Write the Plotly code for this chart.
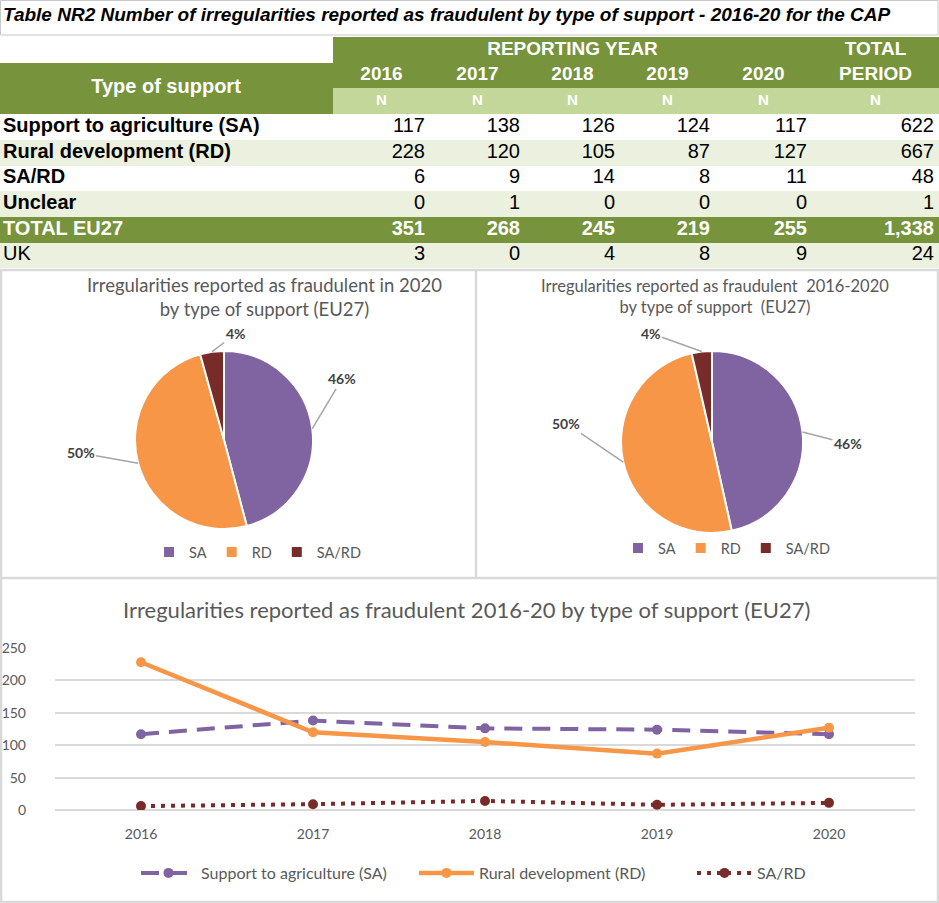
import math
import plotly.graph_objects as go

W, H = 939, 903

# ---- data ----
years = ["2016", "2017", "2018", "2019", "2020"]
support_types = ["Support to agriculture (SA)", "Rural development (RD)", "SA/RD", "Unclear"]
sa_counts = [117, 138, 126, 124, 117]
rd_counts = [228, 120, 105, 87, 127]
sard_counts = [6, 9, 14, 8, 11]
unclear_counts = [0, 1, 0, 0, 0]
uk_counts = [3, 0, 4, 8, 9]
pie_labels = ["SA", "RD", "SA/RD"]

GREEN = "#77933C"
LIGHT_GREEN = "#C4D79B"
PALE = "#EBF1DE"
PURPLE = "#8064A2"
ORANGE = "#F79646"
DARKRED = "#772C2A"
GREY_TXT = "#595959"
BORDER = "#D9D9D9"
TABLE_FONT = "Liberation Sans, Arial"
CHART_FONT = "Lato, Calibri"


def px(x):
    return x / W


def py(y):
    return 1 - y / H


# ---- table (heatmap for cell fills, text traces for values) ----
eu_total = [a + b + c + d for a, b, c, d in zip(sa_counts, rd_counts, sard_counts, unclear_counts)]
body_rows = [sa_counts, rd_counts, sard_counts, unclear_counts, eu_total, uk_counts]
body_rows = [r + [sum(r)] for r in body_rows]
row_names = support_types + ["TOTAL EU27", "UK"]
total_idx = 4

col_edges = [0, 333, 430, 525, 620, 715, 812, 939]
n_head = 3
n_rows = n_head + len(body_rows)
row_edges = list(range(n_rows + 1))

# fill codes: 0 white, 1 green, 2 light green, 3 pale
head_codes = [[0] + [1] * 6, [1] * 7, [1] + [2] * 6]
body_codes = [[c] * 7 for c in [0, 3, 0, 3, 1, 3]]
fill_z = head_codes + body_codes

fig = go.Figure()

fig.add_trace(go.Heatmap(
    x=col_edges, y=row_edges, z=fill_z,
    zmin=0, zmax=3, showscale=False, hoverinfo="skip",
    colorscale=[[0, "white"], [1 / 3, GREEN], [2 / 3, LIGHT_GREEN], [1, PALE]],
    xaxis="x2", yaxis="y2",
))

body_y = [n_head + i + 0.5 for i in range(len(body_rows))]
row_font = ["black"] * 4 + ["white", "black"]

fig.add_trace(go.Scatter(
    x=[3] * len(row_names), y=body_y, mode="text",
    text=[f"<b>{n}</b>" if n != "UK" else n for n in row_names],
    textposition="middle right",
    textfont=dict(family=TABLE_FONT, size=20, color=row_font),
    hoverinfo="skip", showlegend=False, xaxis="x2", yaxis="y2",
))
for j in range(len(years) + 1):
    vals = [f"{r[j]:,}" for r in body_rows]
    vals = [f"<b>{v}</b>" if i == total_idx else v for i, v in enumerate(vals)]
    fig.add_trace(go.Scatter(
        x=[col_edges[j + 2] - 5] * len(vals), y=body_y, mode="text",
        text=vals, textposition="middle left",
        textfont=dict(family=TABLE_FONT, size=20, color=row_font),
        hoverinfo="skip", showlegend=False, xaxis="x2", yaxis="y2",
    ))

centers = [(a + b) / 2 for a, b in zip(col_edges[1:-1], col_edges[2:])]
head_x = [166, (col_edges[1] + col_edges[-2]) / 2] + centers + centers
head_y = [2.0, 0.5] + [1.5] * len(centers) + [2.5] * len(centers)
head_text = ["Type of support", "REPORTING YEAR"] + years + ["PERIOD"] + ["N"] * len(centers)
head_size = [20, 19] + [19] * len(centers) + [15] * len(centers)
head_x.append(centers[-1])
head_y.append(0.5)
head_text.append("TOTAL")
head_size.append(19)
fig.add_trace(go.Scatter(
    x=head_x, y=head_y, mode="text",
    text=[f"<b>{t}</b>" for t in head_text],
    textposition="middle center",
    textfont=dict(family=TABLE_FONT, size=head_size, color="white"),
    hoverinfo="skip", showlegend=False, xaxis="x2", yaxis="y2",
))

# ---- pies ----
pie_2020 = [sa_counts[-1], rd_counts[-1], sard_counts[-1]]
pie_period = [sum(sa_counts), sum(rd_counts), sum(sard_counts)]
pie_colors = [PURPLE, ORANGE, DARKRED]

pies = [
    dict(values=pie_2020, base=eu_total[-1], cx=224, cy=440, r=89, legend="legend",
         group="pie2020", nudges=[-20, 10, 14], gaps=[44, 55, 18]),
    dict(values=pie_period, base=sum(eu_total), cx=712, cy=442, r=91, legend="legend2",
         group="pieperiod", nudges=[7, 20, -23], gaps=[45, 56, 34]),
]

annotations = []
for p in pies:
    cx, cy, r = p["cx"], p["cy"], p["r"]
    fig.add_trace(go.Pie(
        labels=pie_labels,
        values=p["values"],
        domain=dict(x=[px(cx - r), px(cx + r)], y=[py(cy + r), py(cy - r)]),
        marker=dict(colors=pie_colors, line=dict(color="white", width=2)),
        sort=False,
        direction="clockwise",
        rotation=0,
        textinfo="none",
        hoverinfo="label+value+percent",
        legend=p["legend"],
        legendgroup=p["group"],
    ))
    total = sum(p["values"])
    cum = 0
    for v, nudge, gap in zip(p["values"], p["nudges"], p["gaps"]):
        frac = v / total
        mid = math.radians(360 * (cum + frac / 2))
        cum += frac
        ex, ey = cx + r * math.sin(mid), cy - r * math.cos(mid)
        lab = mid + math.radians(nudge)
        lx, ly = cx + (r + gap) * math.sin(lab), cy - (r + gap) * math.cos(lab)
        annotations.append(dict(
            x=px(ex), y=py(ey), xref="paper", yref="paper",
            ax=lx - ex, ay=ly - ey,
            text=f"<b>{v / p['base']:.0%}</b>",
            showarrow=True, arrowhead=0, arrowwidth=1.5, arrowcolor="#A6A6A6",
            font=dict(family=CHART_FONT, size=14, color="#404040"),
        ))

# ---- line chart ----
fig.add_trace(go.Scatter(
    x=years, y=sa_counts, name="Support to agriculture (SA)",
    mode="lines+markers",
    line=dict(color=PURPLE, width=4, dash="18px,10px"),
    marker=dict(size=10, color=PURPLE),
    legend="legend3",
))
fig.add_trace(go.Scatter(
    x=years, y=rd_counts, name="Rural development (RD)",
    mode="lines+markers",
    line=dict(color=ORANGE, width=4.5),
    marker=dict(size=10, color=ORANGE),
    legend="legend3",
))
fig.add_trace(go.Scatter(
    x=years, y=sard_counts, name="SA/RD",
    mode="lines+markers",
    line=dict(color=DARKRED, width=4, dash="4px,6px"),
    marker=dict(size=10, color=DARKRED),
    legend="legend3",
))

# ---- texts ----
annotations += [
    dict(x=px(1), y=py(15), xref="paper", yref="paper", xanchor="left", yanchor="middle",
         text="Table NR2 Number of irregularities reported as fraudulent by type of support - 2016-20 for the CAP",
         showarrow=False,
         font=dict(family=TABLE_FONT, size=19, color="black", weight="bold", style="italic")),
    dict(x=px(264), y=py(297), xref="paper", yref="paper", xanchor="center", yanchor="middle",
         text="Irregularities reported as fraudulent in 2020<br>by type of support (EU27)",
         showarrow=False, font=dict(family=CHART_FONT, size=18.5, color=GREY_TXT)),
    dict(x=px(715), y=py(296), xref="paper", yref="paper", xanchor="center", yanchor="middle",
         text="Irregularities reported as fraudulent  2016-2020<br>by type of support  (EU27)",
         showarrow=False, font=dict(family=CHART_FONT, size=16.5, color=GREY_TXT)),
    dict(x=px(466), y=py(609), xref="paper", yref="paper", xanchor="center", yanchor="middle",
         text="Irregularities reported as fraudulent 2016-20 by type of support (EU27)",
         showarrow=False, font=dict(family=CHART_FONT, size=22, color=GREY_TXT)),
]

# panel borders
shapes = [dict(type="rect", xref="paper", yref="paper",
               x0=px(0.5), y0=py(35), x1=px(938), y1=py(0.5),
               line=dict(color="#C8C8C8", width=1))]
for x0, y0, x1, y1 in [(0, 270, 939, 270), (1, 270, 1, 903), (938, 270, 938, 903),
                       (476, 270, 476, 578), (0, 578, 939, 578), (0, 902, 939, 902)]:
    shapes.append(dict(type="line", xref="paper", yref="paper",
                       x0=px(x0), y0=py(y0), x1=px(x1), y1=py(y1),
                       line=dict(color=BORDER, width=2.5)))

legend_style = dict(orientation="h", xanchor="left", yanchor="middle",
                    traceorder="normal", bgcolor="rgba(0,0,0,0)", itemwidth=30,
                    font=dict(family=CHART_FONT, size=14.5, color=GREY_TXT))

fig.update_layout(
    width=W, height=H,
    margin=dict(l=0, r=0, t=0, b=0, autoexpand=False),
    paper_bgcolor="white", plot_bgcolor="white",
    annotations=annotations,
    shapes=shapes,
    legend=dict(legend_style, x=px(149), y=py(552)),
    legend2=dict(legend_style, x=px(618), y=py(548)),
    legend3=dict(legend_style, x=px(136), y=py(873), itemwidth=55,
                 entrywidth=208, font=dict(family=CHART_FONT, size=16, color=GREY_TXT)),
    xaxis=dict(domain=[px(55), px(915)], type="category", range=[-0.5, 4.5],
               automargin=False, showgrid=False, showline=False, ticks="",
               ticklabelstandoff=14,
               tickfont=dict(family=CHART_FONT, size=14, color=GREY_TXT)),
    yaxis=dict(domain=[py(810), py(648)], range=[0, 250], dtick=50, automargin=False,
               gridcolor=BORDER, gridwidth=1.5, zeroline=True, zerolinecolor=BORDER,
               zerolinewidth=1.5, ticks="", ticklabelstandoff=28,
               tickfont=dict(family=CHART_FONT, size=14, color=GREY_TXT)),
    xaxis2=dict(domain=[0, 1], range=[0, W], visible=False, fixedrange=True,
                automargin=False, anchor="y2"),
    yaxis2=dict(domain=[py(37 + 25.7 * n_rows), py(37)], range=[n_rows, 0],
                visible=False, fixedrange=True, automargin=False, anchor="x2"),
)

fig.write_html(
    "out.html",
    config={"displayModeBar": False},
    post_script="document.body.style.margin='0';document.body.style.overflow='hidden';",
)
